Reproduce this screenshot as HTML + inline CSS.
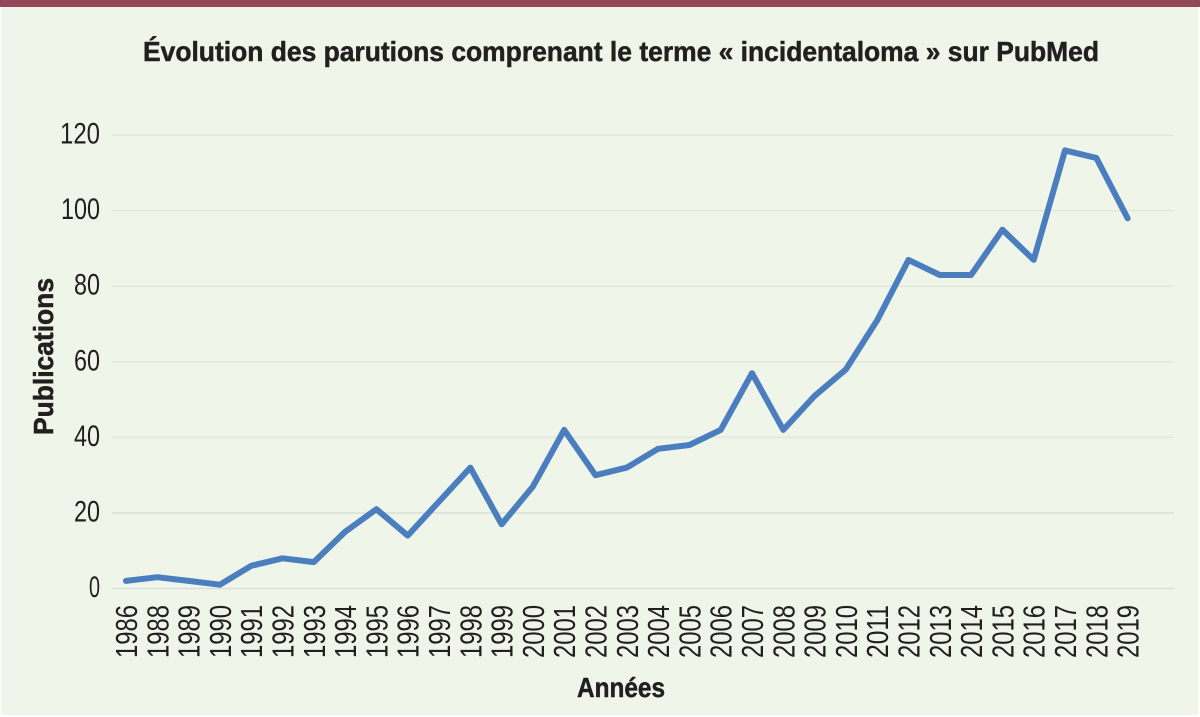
<!DOCTYPE html>
<html><head><meta charset="utf-8"><style>
html,body{margin:0;padding:0;background:#ffffff;}
svg{display:block;}
</style></head><body>
<svg width="1200" height="717" viewBox="0 0 1200 717" xmlns="http://www.w3.org/2000/svg">
<rect x="0" y="0" width="1200" height="717" fill="#ffffff"/>
<rect x="1" y="0" width="1197" height="715" fill="#eff6e9"/>
<rect x="0" y="0" width="1200" height="7" fill="#924858"/>
<text x="621" y="61" text-anchor="middle" textLength="956" lengthAdjust="spacingAndGlyphs" font-family="Liberation Sans, sans-serif" font-weight="bold" font-size="28" fill="#231f20" stroke="#231f20" stroke-width="0.5">Évolution des parutions comprenant le terme « incidentaloma » sur PubMed</text>
<g stroke="#e2e8dc" stroke-width="1.5">
<line x1="112" y1="210.8" x2="1174" y2="210.8"/>
<line x1="112" y1="135.3" x2="1174" y2="135.3"/>
<line x1="112" y1="437.4" x2="1174" y2="437.4"/>
<line x1="112" y1="361.9" x2="1174" y2="361.9"/>
<line x1="112" y1="286.3" x2="1174" y2="286.3"/>
</g>
<g stroke="#d9dfdc" stroke-width="1.5">
<line x1="112" y1="588.5" x2="1174" y2="588.5"/>
<line x1="112" y1="513" x2="1174" y2="513"/>
</g>
<g font-family="Liberation Sans, sans-serif" font-size="30" fill="#231f20" text-anchor="end">
<text x="100" y="597" textLength="11" lengthAdjust="spacingAndGlyphs">0</text>
<text x="100" y="521.5" textLength="26" lengthAdjust="spacingAndGlyphs">20</text>
<text x="100" y="446" textLength="26" lengthAdjust="spacingAndGlyphs">40</text>
<text x="100" y="370.5" textLength="26" lengthAdjust="spacingAndGlyphs">60</text>
<text x="100" y="294.5" textLength="26" lengthAdjust="spacingAndGlyphs">80</text>
<text x="100" y="219" textLength="39" lengthAdjust="spacingAndGlyphs">100</text>
<text x="100" y="143.5" textLength="40" lengthAdjust="spacingAndGlyphs">120</text>
</g>
<text transform="translate(53,356.5) rotate(-90)" text-anchor="middle" textLength="157" lengthAdjust="spacingAndGlyphs" font-family="Liberation Sans, sans-serif" font-weight="bold" font-size="28" fill="#231f20" stroke="#231f20" stroke-width="0.5">Publications</text>
<text x="621" y="697" text-anchor="middle" textLength="88" lengthAdjust="spacingAndGlyphs" font-family="Liberation Sans, sans-serif" font-weight="bold" font-size="28" fill="#231f20" stroke="#231f20" stroke-width="0.5">Années</text>
<g font-family="Liberation Sans, sans-serif" font-size="31" fill="#231f20">
<text transform="translate(137,658) rotate(-90)" textLength="53" lengthAdjust="spacingAndGlyphs">1986</text>
<text transform="translate(168.3,658) rotate(-90)" textLength="53" lengthAdjust="spacingAndGlyphs">1988</text>
<text transform="translate(199.6,658) rotate(-90)" textLength="53" lengthAdjust="spacingAndGlyphs">1989</text>
<text transform="translate(230.9,658) rotate(-90)" textLength="53" lengthAdjust="spacingAndGlyphs">1990</text>
<text transform="translate(262.2,658) rotate(-90)" textLength="53" lengthAdjust="spacingAndGlyphs">1991</text>
<text transform="translate(293.5,658) rotate(-90)" textLength="53" lengthAdjust="spacingAndGlyphs">1992</text>
<text transform="translate(324.8,658) rotate(-90)" textLength="53" lengthAdjust="spacingAndGlyphs">1993</text>
<text transform="translate(356.1,658) rotate(-90)" textLength="53" lengthAdjust="spacingAndGlyphs">1994</text>
<text transform="translate(387.4,658) rotate(-90)" textLength="53" lengthAdjust="spacingAndGlyphs">1995</text>
<text transform="translate(418.7,658) rotate(-90)" textLength="53" lengthAdjust="spacingAndGlyphs">1996</text>
<text transform="translate(450,658) rotate(-90)" textLength="53" lengthAdjust="spacingAndGlyphs">1997</text>
<text transform="translate(481.3,658) rotate(-90)" textLength="53" lengthAdjust="spacingAndGlyphs">1998</text>
<text transform="translate(512.6,658) rotate(-90)" textLength="53" lengthAdjust="spacingAndGlyphs">1999</text>
<text transform="translate(543.9,658) rotate(-90)" textLength="53" lengthAdjust="spacingAndGlyphs">2000</text>
<text transform="translate(575.2,658) rotate(-90)" textLength="53" lengthAdjust="spacingAndGlyphs">2001</text>
<text transform="translate(606.5,658) rotate(-90)" textLength="53" lengthAdjust="spacingAndGlyphs">2002</text>
<text transform="translate(637.8,658) rotate(-90)" textLength="53" lengthAdjust="spacingAndGlyphs">2003</text>
<text transform="translate(669.1,658) rotate(-90)" textLength="53" lengthAdjust="spacingAndGlyphs">2004</text>
<text transform="translate(700.4,658) rotate(-90)" textLength="53" lengthAdjust="spacingAndGlyphs">2005</text>
<text transform="translate(731.7,658) rotate(-90)" textLength="53" lengthAdjust="spacingAndGlyphs">2006</text>
<text transform="translate(763,658) rotate(-90)" textLength="53" lengthAdjust="spacingAndGlyphs">2007</text>
<text transform="translate(794.3,658) rotate(-90)" textLength="53" lengthAdjust="spacingAndGlyphs">2008</text>
<text transform="translate(825.6,658) rotate(-90)" textLength="53" lengthAdjust="spacingAndGlyphs">2009</text>
<text transform="translate(856.9,658) rotate(-90)" textLength="53" lengthAdjust="spacingAndGlyphs">2010</text>
<text transform="translate(888.2,658) rotate(-90)" textLength="53" lengthAdjust="spacingAndGlyphs">2011</text>
<text transform="translate(919.5,658) rotate(-90)" textLength="53" lengthAdjust="spacingAndGlyphs">2012</text>
<text transform="translate(950.8,658) rotate(-90)" textLength="53" lengthAdjust="spacingAndGlyphs">2013</text>
<text transform="translate(982.1,658) rotate(-90)" textLength="53" lengthAdjust="spacingAndGlyphs">2014</text>
<text transform="translate(1013.4,658) rotate(-90)" textLength="53" lengthAdjust="spacingAndGlyphs">2015</text>
<text transform="translate(1044.7,658) rotate(-90)" textLength="53" lengthAdjust="spacingAndGlyphs">2016</text>
<text transform="translate(1076,658) rotate(-90)" textLength="53" lengthAdjust="spacingAndGlyphs">2017</text>
<text transform="translate(1107.3,658) rotate(-90)" textLength="53" lengthAdjust="spacingAndGlyphs">2018</text>
<text transform="translate(1138.6,658) rotate(-90)" textLength="53" lengthAdjust="spacingAndGlyphs">2019</text>
</g>
<polyline fill="none" stroke="#4a7ebf" stroke-width="6" stroke-linejoin="round" stroke-linecap="round" points="126,580.9 157.3,577.2 188.6,580.9 219.9,584.7 251.2,565.8 282.5,558.3 313.8,562.1 345.1,531.8 376.4,509.2 407.7,535.6 439,501.6 470.3,467.6 501.6,524.3 532.9,486.5 564.2,429.9 595.5,475.2 626.8,467.6 658.1,448.8 689.4,445 720.7,429.9 752,373.2 783.3,429.9 814.6,395.9 845.9,369.4 877.2,320.3 908.5,259.9 939.8,275 971.1,275 1002.4,229.7 1033.7,259.9 1065,150.4 1096.3,157.9 1127.6,218.3"/>
</svg>
</body></html>
